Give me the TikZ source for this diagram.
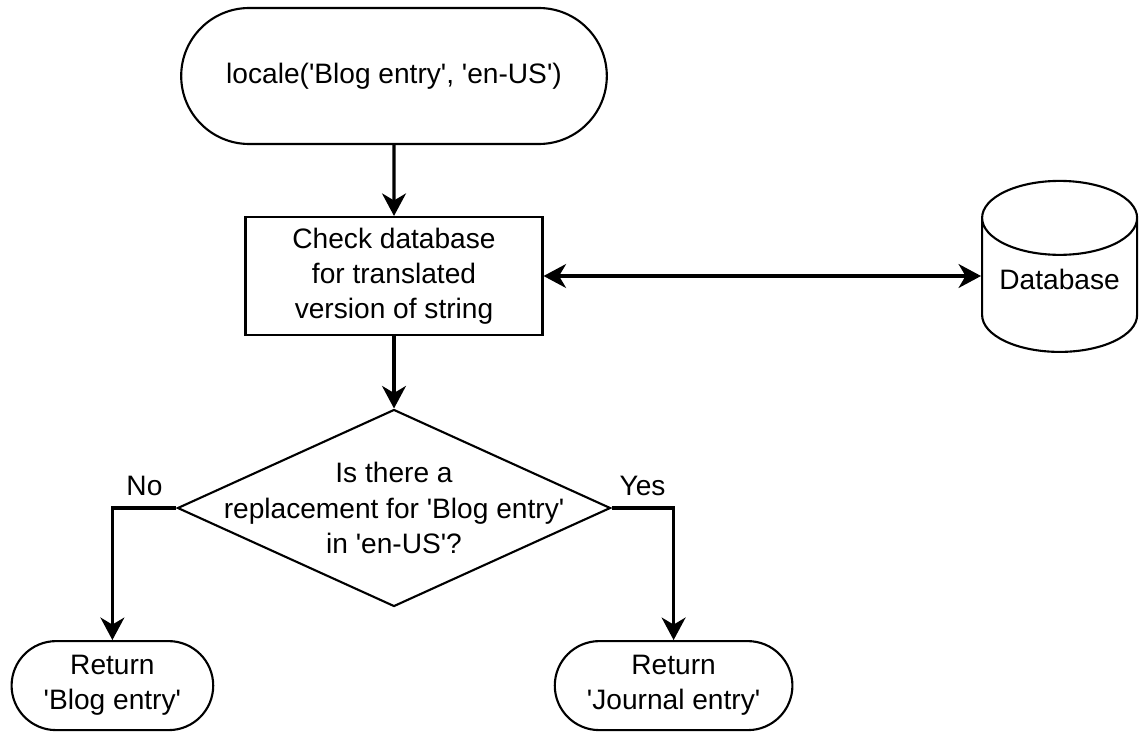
\documentclass[tikz,border=0pt]{standalone}
\usepackage{fontspec}
\newfontfamily\flowfont{Liberation Sans}
\usetikzlibrary{arrows.meta, positioning, shapes.geometric, shapes.misc}

\begin{document}
\begin{tikzpicture}[
  >={Stealth[length=16pt, width=17pt, inset=5pt]},
  every node/.style={font=\flowfont\fontsize{20}{25}\selectfont},
  term/.style={draw, rounded rectangle, line width=1.5pt, align=center},
  proc/.style={draw, rectangle, line width=1.5pt, align=center,
               minimum width=7.425cm, minimum height=2.95cm},
  decision/.style={draw, diamond, line width=1.5pt, inner sep=0pt,
                   minimum width=10.825cm, minimum height=4.925cm},
  store/.style={draw, cylinder, shape border rotate=90, aspect=0.57,
                line width=1.5pt, text depth=18pt,
                minimum width=3.875cm, minimum height=4.275cm},
  arr/.style={->, line width=2.2pt},
  darr/.style={<->, line width=2.2pt}
]

%% frame of the picture
\useasboundingbox (0,0) rectangle (28.525,-18.275);

%%=============================================================================
%% Main flow
%%=============================================================================
\node[term, minimum width=10.875cm, minimum height=3.4cm]
  (start) at (9.85, -1.9) {locale('Blog entry', 'en-US')};
\node[proc] (check) at (9.85, -6.9) {
  Check database\\for translated\\version of string
};
\node[store, anchor=shape center] (db) at (26.49, -6.66) {Database};
\node[decision, label={[align=center]center:
  Is there a\\replacement for 'Blog entry'\\in 'en-US'?}]
  (ask) at (9.85, -12.7) {};

%% Results
\node[term, minimum width=5.275cm, minimum height=2.225cm]
  (ret_blog) at (2.81, -17.14) {Return\\'Blog entry'};
\node[term, minimum width=6.175cm, minimum height=2.225cm]
  (ret_journal) at (16.84, -17.14) {Return\\'Journal entry'};

%% Arrows
\draw[arr]  (start) -- (check);
\draw[darr] (check.east) -- (check.east -| db.west);
\draw[arr]  (check) -- (ask);
\draw[arr]  (ask.west) -| node[pos=0.25, above=4pt] {No}  (ret_blog.north);
\draw[arr]  (ask.east) -| node[pos=0.25, above=4pt] {Yes} (ret_journal.north);

\end{tikzpicture}
\end{document}
